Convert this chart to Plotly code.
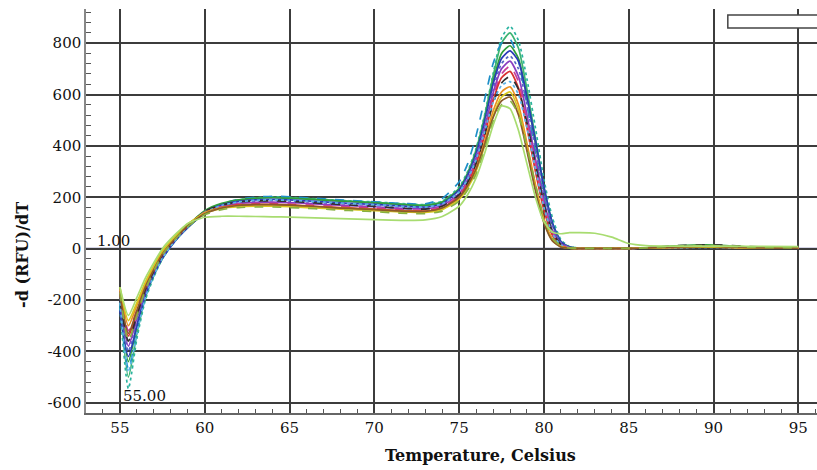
import plotly.graph_objects as go

# Temperature grid (Celsius)
temps = [55.0, 55.5, 56.0, 56.5, 57.0, 57.5, 58.0, 58.5, 59.0, 60.0, 61.0, 62.0, 63.0, 64.0,
         65.0, 66.0, 67.0, 68.0, 69.0, 70.0, 71.0, 72.0, 73.0, 74.0, 75.0, 75.5, 76.0, 76.5,
         77.0, 77.5, 78.0, 78.5, 79.0, 79.5, 80.0, 80.5, 81.0, 81.5, 82.0, 83.0, 84.0, 85.0,
         86.0, 88.0, 90.0, 92.0, 95.0]

# -d(RFU)/dT melt curves, one list per well
well_01 = [-230, -545, -350, -200, -110, -40, 10, 50, 85, 140, 172, 190, 198, 202, 200, 196, 192, 188, 185, 182, 178, 174, 172, 185, 240, 300, 390, 520, 680, 820, 866, 810, 660, 470, 270, 120, 35, 8, 3, 2, 2, 2, 3, 8, 10, 6, 3]
well_02 = [-210, -500, -330, -190, -105, -40, 8, 48, 82, 138, 170, 188, 196, 200, 198, 195, 191, 187, 183, 180, 176, 172, 170, 182, 235, 295, 385, 515, 670, 800, 840, 780, 620, 430, 240, 100, 28, 6, 2, 2, 2, 2, 3, 10, 12, 6, 3]
well_03 = [-220, -470, -320, -185, -100, -35, 12, 52, 88, 145, 175, 192, 200, 204, 202, 198, 194, 190, 186, 182, 178, 175, 174, 195, 260, 330, 440, 580, 720, 800, 815, 730, 560, 370, 200, 80, 20, 5, 2, 1, 1, 1, 2, 6, 8, 4, 2]
well_04 = [-190, -440, -300, -175, -95, -30, 15, 55, 90, 148, 176, 190, 196, 198, 196, 193, 189, 185, 182, 178, 174, 170, 168, 180, 232, 290, 375, 500, 650, 760, 790, 740, 590, 410, 230, 95, 26, 6, 2, 2, 2, 2, 3, 12, 14, 7, 3]
well_05 = [-240, -420, -300, -180, -100, -38, 8, 48, 82, 140, 170, 184, 190, 192, 190, 186, 182, 178, 175, 172, 168, 164, 162, 175, 228, 285, 370, 495, 640, 740, 770, 730, 590, 420, 240, 100, 28, 6, 2, 1, 1, 1, 2, 5, 6, 3, 2]
well_06 = [-200, -400, -280, -170, -92, -30, 14, 52, 86, 142, 168, 180, 185, 187, 185, 182, 178, 175, 172, 169, 165, 161, 160, 172, 222, 278, 360, 480, 620, 720, 750, 700, 560, 390, 215, 88, 24, 5, 2, 1, 1, 1, 2, 5, 7, 3, 2]
well_07 = [-180, -380, -270, -165, -90, -28, 16, 54, 88, 140, 165, 176, 180, 181, 179, 176, 172, 169, 166, 163, 159, 156, 155, 168, 215, 268, 348, 465, 605, 700, 730, 670, 520, 350, 185, 72, 18, 4, 1, 1, 1, 1, 2, 6, 8, 4, 2]
well_08 = [-160, -320, -240, -150, -80, -20, 22, 58, 92, 142, 164, 174, 176, 176, 174, 171, 168, 164, 161, 158, 154, 150, 150, 162, 208, 260, 338, 452, 590, 680, 710, 650, 500, 330, 170, 62, 15, 3, 1, 1, 1, 1, 3, 8, 10, 4, 2]
well_09 = [-170, -340, -250, -155, -85, -25, 18, 55, 88, 138, 160, 170, 172, 172, 170, 167, 163, 160, 157, 154, 150, 147, 146, 158, 202, 252, 328, 440, 575, 665, 690, 625, 470, 300, 150, 52, 12, 3, 1, 1, 1, 1, 2, 5, 6, 3, 2]
well_10 = [-200, -360, -260, -160, -88, -26, 18, 56, 90, 145, 170, 182, 186, 186, 184, 180, 176, 172, 168, 165, 160, 156, 154, 165, 210, 258, 332, 440, 565, 645, 670, 620, 490, 330, 175, 65, 16, 4, 1, 1, 1, 1, 3, 12, 15, 8, 3]
well_11 = [-210, -480, -330, -190, -105, -38, 10, 50, 84, 140, 168, 182, 188, 190, 188, 185, 181, 177, 174, 171, 167, 163, 162, 174, 220, 270, 345, 455, 570, 635, 650, 600, 470, 310, 160, 58, 14, 3, 1, 1, 1, 1, 2, 4, 5, 3, 2]
well_12 = [-160, -300, -220, -140, -72, -15, 25, 60, 94, 140, 160, 168, 170, 170, 168, 165, 161, 158, 155, 152, 148, 145, 144, 155, 196, 242, 312, 415, 535, 610, 630, 560, 410, 250, 115, 38, 8, 2, 1, 1, 1, 1, 2, 6, 7, 3, 2]
well_13 = [-150, -280, -210, -130, -65, -8, 30, 64, 96, 138, 156, 163, 165, 165, 163, 160, 157, 154, 151, 148, 145, 142, 141, 152, 192, 236, 302, 400, 515, 590, 610, 540, 390, 235, 105, 32, 7, 2, 1, 1, 1, 1, 2, 5, 6, 3, 2]
well_14 = [-180, -330, -240, -150, -82, -22, 20, 56, 89, 136, 158, 168, 171, 171, 169, 166, 162, 158, 155, 152, 148, 145, 145, 158, 200, 245, 310, 405, 510, 575, 590, 520, 380, 225, 100, 30, 6, 2, 1, 1, 1, 1, 2, 7, 9, 4, 2]
well_15 = [-170, -360, -260, -160, -86, -24, 18, 54, 86, 132, 152, 160, 162, 162, 160, 157, 154, 150, 147, 144, 140, 137, 136, 146, 185, 228, 290, 385, 495, 560, 575, 520, 395, 250, 120, 42, 10, 3, 1, 1, 1, 1, 3, 10, 12, 6, 3]
well_16 = [-150, -260, -190, -115, -55, 0, 38, 70, 98, 122, 126, 126, 125, 124, 123, 121, 119, 117, 115, 113, 111, 110, 112, 125, 165, 210, 275, 370, 480, 555, 545, 460, 330, 200, 105, 65, 58, 62, 62, 60, 45, 20, 12, 10, 10, 9, 8]

wells = [well_01, well_02, well_03, well_04, well_05, well_06, well_07, well_08,
         well_09, well_10, well_11, well_12, well_13, well_14, well_15, well_16]
colors = ["#2ab3a0", "#3cb371", "#1e8fc8", "#2f9e3a", "#2a3ab8", "#5566c4", "#8a3cc0", "#c8409a",
          "#d83030", "#303030", "#5ab4e8", "#e89020", "#d8c820", "#8b5a2b", "#88b040", "#a8dc70"]
dashes = ["dot", "solid", "dash", "solid", "solid", "dot", "solid", "dash",
          "solid", "dash", "dot", "solid", "solid", "solid", "dash", "solid"]

x_ticks = [55, 60, 65, 70, 75, 80, 85, 90, 95]
y_ticks = [-600, -400, -200, 0, 200, 400, 600, 800]

fig = go.Figure()
for vals, c, d in zip(wells, colors, dashes):
    fig.add_trace(go.Scatter(x=temps, y=vals, mode="lines",
                             line=dict(color=c, width=1.7, dash=d, shape="spline", smoothing=0.6),
                             showlegend=False, hoverinfo="skip"))

font_fam = "DejaVu Serif"
grid_c = "#3c3c3c"

fig.update_layout(
    width=817, height=470,
    margin=dict(l=86, r=0, t=9, b=57),
    paper_bgcolor="white", plot_bgcolor="white",
    xaxis=dict(range=[53, 96.1], tickvals=x_ticks, ticktext=[str(v) for v in x_ticks],
               automargin=False,
               showgrid=True, gridcolor=grid_c, gridwidth=1.6,
               ticks="inside", ticklen=8, tickcolor=grid_c, tickwidth=1.2,
               minor=dict(dtick=1, ticks="inside", ticklen=4, tickcolor="#555", showgrid=False),
               showline=True, linecolor="#666", linewidth=1.5, zeroline=False,
               tickfont=dict(family=font_fam, size=15, color="#111")),
    yaxis=dict(range=[-640, 933], tickvals=y_ticks, ticktext=[str(v) for v in y_ticks],
               automargin=False,
               showgrid=True, gridcolor=grid_c, gridwidth=1.6,
               ticks="inside", ticklen=8, tickcolor=grid_c, tickwidth=1.2,
               minor=dict(dtick=40, ticks="inside", ticklen=5, tickcolor="#555", showgrid=False),
               showline=True, linecolor="#888", linewidth=1.5, zeroline=False,
               tickfont=dict(family=font_fam, size=15, color="#111")),
    annotations=[
        dict(text="<b>-d (RFU)/dT</b>", xref="paper", yref="paper", x=-0.0876, y=0.391,
             textangle=-90, showarrow=False, xanchor="center", yanchor="middle",
             font=dict(family=font_fam, size=16, color="#111")),
        dict(text="<b>Temperature, Celsius</b>", xref="paper", yref="paper", x=0.539, y=-0.104,
             showarrow=False, xanchor="center", yanchor="middle",
             font=dict(family=font_fam, size=16, color="#111")),
        dict(text="1.00", x=53.55, y=30, xref="x", yref="y", showarrow=False,
             xanchor="left", yanchor="middle", font=dict(family=font_fam, size=15, color="#111")),
        dict(text="55.00", x=55.05, y=-575, xref="x", yref="y", showarrow=False,
             xanchor="left", yanchor="middle", font=dict(family=font_fam, size=15, color="#111")),
    ],
    shapes=[
        dict(type="line", xref="paper", yref="y", x0=0, x1=1, y0=0, y1=0,
             line=dict(color="#55559a", width=1.6), layer="below"),
        dict(type="line", xref="x", yref="paper", x0=55, x1=55, y0=0, y1=1,
             line=dict(color="#e0a894", width=1.6), layer="below"),
        dict(type="rect", xref="paper", yref="paper", x0=0.878, x1=1.02, y0=0.953, y1=0.985,
             line=dict(color="#444", width=1.5), fillcolor="white"),
    ],
)

fig.write_html("out.html", config={"displayModeBar": False},
               post_script="document.body.style.margin='0px';document.body.style.overflow='hidden';")
